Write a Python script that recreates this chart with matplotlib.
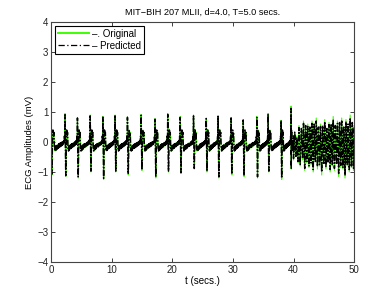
import matplotlib
matplotlib.use("Agg")
import matplotlib.pyplot as plt

plt.rcParams["font.family"] = ["Liberation Sans", "DejaVu Sans"]

# R peak times (s) of the regular beats
beat_t = [0.0, 2.3, 4.35, 6.45, 8.55, 10.55, 12.6, 14.85, 17.15, 19.25,
          21.3, 23.5, 25.6, 27.55, 29.7, 31.7, 33.95, 35.8, 37.95, 39.6]
r_orig = [0.8, 0.95, 0.82, 0.9, 0.85, 0.9, 0.85, 0.92, 0.78, 0.95,
          0.85, 0.9, 0.8, 0.88, 0.82, 0.75, 0.85, 0.95, 0.72, 1.2]
s_orig = [-1.1, -1.15, -1.2, -1.0, -1.25, -1.0, -1.1, -0.95, -1.2, -1.0,
          -1.05, -0.9, -1.0, -1.2, -1.1, -1.15, -1.2, -1.0, -1.25, -0.9]
r_pred = [0.77, 0.91, 0.8, 0.87, 0.83, 0.87, 0.82, 0.89, 0.76, 0.92,
          0.82, 0.87, 0.78, 0.85, 0.8, 0.73, 0.82, 0.92, 0.7, 1.12]
s_pred = [-1.07, -1.12, -1.16, -0.97, -1.21, -0.97, -1.07, -0.92, -1.16, -0.97,
          -1.02, -0.88, -0.97, -1.16, -1.07, -1.12, -1.16, -0.97, -1.2, -0.88]

# shape of one beat after the R peak (fraction of the RR interval)
tmpl_phase = [0.06, 0.1, 0.13, 0.17, 0.2, 0.24, 0.28, 0.31, 0.34, 0.37,
              0.4, 0.43, 0.46, 0.49, 0.52, 0.55, 0.58, 0.61, 0.64, 0.67,
              0.7, 0.73, 0.76, 0.79, 0.82, 0.85, 0.88, 0.91, 0.94, 0.96, 0.98]
tmpl_val = [None, 0.0, 0.4, 0.2, 0.32, -0.2, -0.3, -0.15, -0.28, -0.12,
            -0.25, -0.1, -0.22, -0.08, -0.2, -0.06, -0.18, -0.05, -0.16, -0.03,
            -0.14, -0.02, -0.12, 0.0, -0.1, 0.02, -0.08, 0.05, -0.05, 0.2, 0.0]

# irregular part after 40 s (turning points)
noise_t = [40.0, 40.2, 40.4, 40.55, 40.75, 40.9, 41.1, 41.3, 41.5, 41.65,
           41.85, 42.0, 42.2, 42.35, 42.55, 42.7, 42.9, 43.05, 43.25, 43.4,
           43.6, 43.75, 43.95, 44.1, 44.3, 44.45, 44.65, 44.8, 45.0, 45.15,
           45.35, 45.5, 45.7, 45.85, 46.05, 46.2, 46.4, 46.55, 46.75, 46.9,
           47.1, 47.25, 47.45, 47.6, 47.8, 47.95, 48.15, 48.3, 48.5, 48.65,
           48.85, 49.0, 49.2, 49.35, 49.55, 49.7, 49.9, 50.0]
noise_orig = [-0.6, 0.35, -0.45, 0.2, -0.7, 0.55, -0.8, 0.4, -0.6, 0.7,
              -0.95, 0.5, -0.7, 0.6, -0.85, 0.45, -0.75, 0.7, -1.0, 0.55,
              -0.6, 0.8, -0.9, 0.45, -0.8, 0.6, -1.1, 0.5, -0.7, 0.75,
              -0.9, 0.4, -0.65, 0.65, -1.0, 0.55, -0.8, 0.85, -0.95, 0.5,
              -0.7, 0.7, -1.15, 0.6, -0.85, 0.8, -0.9, 0.45, -1.2, 0.75,
              -0.8, 0.55, -1.0, 0.9, -0.85, 0.6, -0.95, 0.5]
noise_pred = [-0.55, 0.32, -0.48, 0.15, -0.65, 0.48, -0.75, 0.45, -0.55, 0.62,
              -0.88, 0.55, -0.65, 0.52, -0.8, 0.5, -0.7, 0.62, -0.92, 0.6,
              -0.65, 0.7, -0.82, 0.5, -0.75, 0.52, -1.0, 0.55, -0.75, 0.68,
              -0.82, 0.45, -0.7, 0.58, -0.92, 0.6, -0.75, 0.75, -0.88, 0.55,
              -0.75, 0.62, -1.05, 0.65, -0.78, 0.7, -0.85, 0.5, -1.1, 0.68,
              -0.75, 0.6, -0.92, 0.8, -0.8, 0.65, -0.88, 0.55]


def build_signal(r, s, noise):
    edges = beat_t + [noise_t[0]]
    tt, vv = [], []
    for i in range(len(beat_t)):
        dur = edges[i + 1] - edges[i]
        tt.append(beat_t[i])
        vv.append(r[i])
        for ph, val in zip(tmpl_phase, tmpl_val):
            tt.append(beat_t[i] + ph * dur)
            vv.append(s[i] if val is None else val)
    return tt + noise_t, vv + noise


t_o, v_o = build_signal(r_orig, s_orig, noise_orig)
t_p, v_p = build_signal(r_pred, s_pred, noise_pred)

fig = plt.figure(figsize=(3.9, 2.94), dpi=100)
ax = fig.add_axes([0.131, 0.109, 0.777, 0.816])
ax.plot(t_o, v_o, color="#3cff00", lw=0.8, label="\u2013. Original")
ax.plot(t_p, v_p, color="black", ls=(0, (4, 1, 1, 1)), lw=1.1,
        label="\u2013 Predicted")

ax.set_xlim(0, 50)
ax.set_ylim(-4, 4)
ax.set_xticks([0, 10, 20, 30, 40, 50])
ax.set_yticks(range(-4, 5))
ax.tick_params(direction="in", top=True, right=True, labelsize=7,
               length=3, width=0.6, colors="#222222", pad=2)
for sp in ax.spines.values():
    sp.set_color("#444444")
    sp.set_linewidth(0.8)

ax.set_title("MIT\u2212BIH 207 MLII, d=4.0, T=5.0 secs.", fontsize=6.6, pad=5)
ax.set_xlabel("t (secs.)", fontsize=7, labelpad=1)
ax.set_ylabel("ECG Amplitudes (mV)", fontsize=6.8, labelpad=2)

leg = ax.legend(loc="upper left", fontsize=7, fancybox=False, framealpha=1,
                edgecolor="black", borderaxespad=0.4, handlelength=3.2,
                borderpad=0.3, labelspacing=0.2, handletextpad=0.3)
leg.get_frame().set_linewidth(0.8)
leg.get_lines()[0].set_linewidth(1.4)
leg.get_lines()[1].set_linewidth(0.9)
leg.get_lines()[1].set_linestyle((0, (5, 2, 1, 2)))

fig.savefig("out.png", dpi=100)
